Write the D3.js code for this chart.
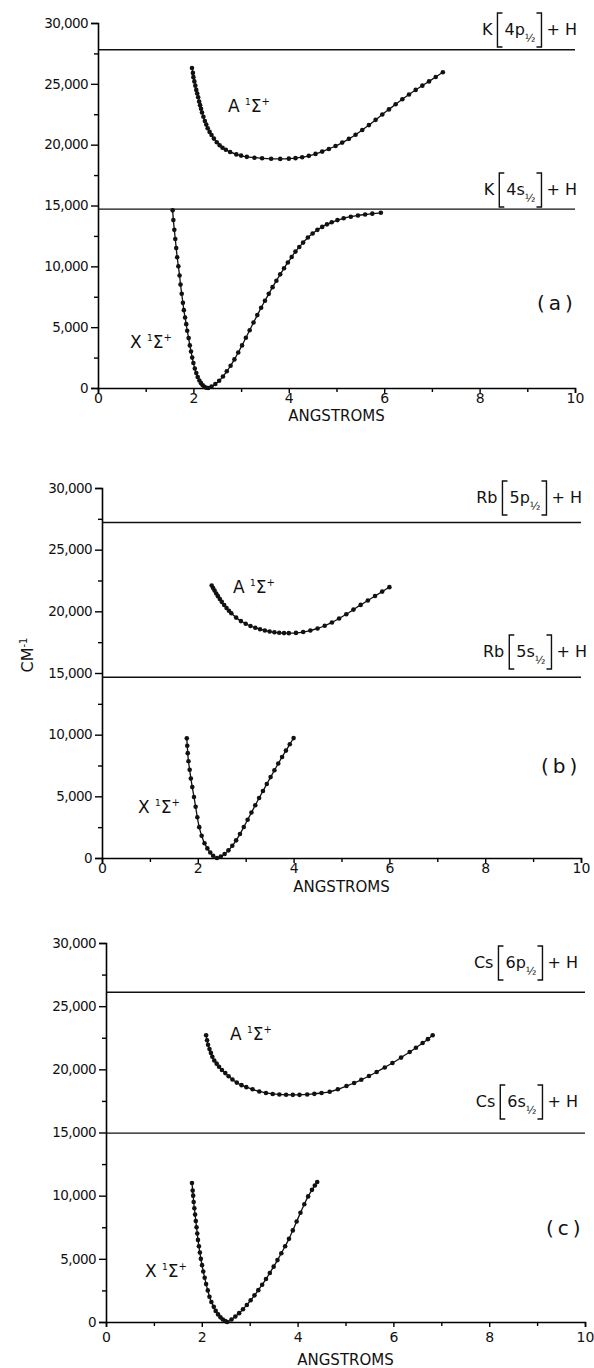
<!DOCTYPE html>
<html>
<head>
<meta charset="utf-8">
<script src="https://cdn.jsdelivr.net/npm/d3@7/dist/d3.min.js"></script>
<style>
  body { margin: 0; background: #fff; }
  svg { display: block; }
  text { font-family: "DejaVu Sans", sans-serif; fill: #111; }
</style>
</head>
<body>
<svg width="594" height="1368"></svg>
<script>
// ---- data ----
const xTicks = [0, 2, 4, 6, 8, 10];
const xMinor = [1, 3, 5, 7, 9];
const yTicks = [0, 5000, 10000, 15000, 20000, 25000, 30000];
const yMinor = [2500, 7500, 12500, 17500, 22500, 27500];

const panelNames = ['(a)', '(b)', '(c)'];
const atoms = ['K', 'Rb', 'Cs'];
const pStates = ['4p', '5p', '6p'];
const sStates = ['4s', '5s', '6s'];
const pLevels = [27800, 27200, 26100];   // cm-1
const sLevels = [14700, 14650, 14950];

// [angstrom, cm-1]
const khX = [[1.565,14600],[1.58,13800],[1.60,13000],[1.62,12250],[1.64,11500],[1.66,10750],[1.685,10000],[1.71,9250],[1.73,8500],[1.755,7750],[1.78,7000],[1.80,6400],[1.825,5800],[1.85,5250],[1.87,4700],[1.90,4100],[1.925,3500],[1.95,3000],[1.975,2500],[2.00,2050],[2.03,1600],[2.06,1230],[2.09,900],[2.125,620],[2.16,400],[2.195,220],[2.23,100],[2.27,25],[2.31,0],[2.38,110],[2.46,330],[2.54,600],[2.62,940],[2.70,1380],[2.78,1830],[2.86,2350],[2.94,2920],[3.02,3500],[3.10,4130],[3.18,4750],[3.26,5380],[3.34,5990],[3.42,6590],[3.50,7170],[3.58,7740],[3.66,8290],[3.74,8820],[3.82,9340],[3.90,9840],[3.98,10320],[4.06,10770],[4.14,11210],[4.22,11590],[4.30,11950],[4.40,12370],[4.50,12700],[4.60,13000],[4.70,13240],[4.80,13450],[4.90,13620],[5.02,13800],[5.15,13950],[5.30,14080],[5.45,14180],[5.60,14260],[5.75,14330],[5.93,14400]];
const khA = [[1.97,26300],[1.99,25900],[2.00,25550],[2.02,25200],[2.04,24850],[2.06,24500],[2.08,24200],[2.10,23900],[2.12,23550],[2.14,23250],[2.16,22950],[2.18,22650],[2.21,22300],[2.24,21950],[2.27,21650],[2.30,21350],[2.34,21050],[2.38,20800],[2.43,20500],[2.49,20200],[2.55,19950],[2.61,19750],[2.68,19580],[2.77,19400],[2.90,19200],[3.00,19100],[3.12,19000],[3.28,18930],[3.44,18880],[3.63,18840],[3.82,18830],[4.00,18850],[4.14,18890],[4.28,18970],[4.42,19080],[4.56,19240],[4.70,19430],[4.84,19650],[4.98,19890],[5.12,20170],[5.26,20480],[5.40,20820],[5.54,21200],[5.68,21610],[5.82,22040],[5.96,22480],[6.10,22900],[6.24,23320],[6.38,23730],[6.52,24120],[6.66,24500],[6.80,24850],[6.94,25200],[7.08,25560],[7.23,25950]];

const rbhX = [[1.77,9700],[1.78,9100],[1.79,8500],[1.805,7850],[1.83,7150],[1.855,6450],[1.885,5750],[1.92,4950],[1.955,4150],[1.99,3300],[2.03,2500],[2.08,1800],[2.14,1200],[2.20,780],[2.26,440],[2.32,180],[2.40,0],[2.48,120],[2.56,330],[2.64,620],[2.72,990],[2.80,1430],[2.88,1940],[2.96,2510],[3.04,3100],[3.12,3690],[3.20,4280],[3.28,4860],[3.36,5430],[3.44,6000],[3.52,6560],[3.60,7110],[3.68,7660],[3.76,8190],[3.84,8710],[3.92,9220],[4.00,9720]];
const rbhA = [[2.29,22100],[2.32,21890],[2.35,21680],[2.385,21450],[2.42,21230],[2.46,21000],[2.50,20770],[2.55,20510],[2.60,20270],[2.65,20050],[2.70,19840],[2.80,19490],[2.90,19210],[3.00,18990],[3.10,18810],[3.20,18670],[3.30,18550],[3.40,18450],[3.50,18360],[3.60,18300],[3.70,18260],[3.80,18235],[3.90,18230],[4.05,18250],[4.20,18320],[4.35,18440],[4.50,18610],[4.65,18830],[4.80,19100],[4.95,19420],[5.10,19760],[5.25,20140],[5.40,20520],[5.55,20880],[5.70,21240],[5.85,21600],[6.00,21960]];

const cshX = [[1.795,11000],[1.81,10400],[1.82,10000],[1.83,9500],[1.845,9000],[1.86,8500],[1.875,8000],[1.89,7500],[1.905,7000],[1.92,6500],[1.94,6000],[1.96,5500],[1.98,5000],[2.005,4500],[2.03,4000],[2.06,3500],[2.09,3000],[2.125,2500],[2.16,2000],[2.20,1580],[2.25,1200],[2.29,880],[2.34,600],[2.39,370],[2.44,200],[2.49,70],[2.53,0],[2.62,200],[2.70,430],[2.78,700],[2.86,1010],[2.94,1350],[3.02,1720],[3.10,2110],[3.18,2520],[3.26,2950],[3.34,3400],[3.42,3880],[3.50,4380],[3.58,4900],[3.66,5440],[3.74,6000],[3.82,6580],[3.90,7250],[3.98,7950],[4.06,8650],[4.14,9320],[4.22,9940],[4.30,10460],[4.36,10800],[4.41,11080]];
const cshA = [[2.09,22700],[2.11,22300],[2.13,21950],[2.16,21600],[2.19,21300],[2.22,21000],[2.26,20700],[2.31,20450],[2.36,20200],[2.42,19950],[2.49,19700],[2.56,19450],[2.64,19200],[2.73,18950],[2.83,18750],[2.93,18590],[3.06,18420],[3.20,18250],[3.34,18130],[3.48,18050],[3.62,18010],[3.76,17990],[3.90,17980],[4.04,17980],[4.20,18010],[4.35,18060],[4.50,18130],[4.67,18220],[4.84,18420],[5.02,18680],[5.18,18920],[5.33,19170],[5.49,19470],[5.65,19790],[5.82,20150],[5.98,20500],[6.16,20930],[6.34,21370],[6.47,21710],[6.61,22080],[6.72,22390],[6.82,22700]];

const xCurves = [khX, rbhX, cshX];
const aCurves = [khA, rbhA, cshA];

// ---- layout ----
const frames = [
  { x0: 98,  x1: 575, yTop: 23,  yBot: 388,  pLab: [577, 35],  sLab: [577, 195],  aLab: [228, 112],  xLab: [130, 348],  pan: [537, 310],  tickY: 5,  axLab: 33 },
  { x0: 102, x1: 581, yTop: 488, yBot: 858,  pLab: [582, 503], sLab: [587, 657],  aLab: [233, 593],  xLab: [138, 813],  pan: [541, 773],  tickY: 5,  axLab: 34 },
  { x0: 106, x1: 585, yTop: 943, yBot: 1322, pLab: [578, 968], sLab: [578, 1107], aLab: [230, 1040], xLab: [145, 1277], pan: [546, 1235], tickY: 10, axLab: 43 }
];

const svg = d3.select('svg');

function stateLabel(g, xRight, yBase, atom, state) {
  const lab = g.append('g');
  let cx = 0;
  const put = (str, size, dy) => {
    const t = lab.append('text').attr('x', cx).attr('y', dy || 0)
      .style('font-size', size + 'px').text(str);
    cx += t.node().getComputedTextLength();
    return t;
  };
  const bracket = (open) => {
    const w = 5, top = -22, bot = 12;
    const bx = open ? cx + 2 : cx + 1;
    const p = open
      ? `M${bx + w},${top}H${bx}V${bot}H${bx + w}`
      : `M${bx},${top}H${bx + w}V${bot}H${bx}`;
    lab.append('path').attr('d', p).attr('fill', 'none')
      .attr('stroke', '#111').attr('stroke-width', 1.4);
    cx += w + 4;
  };
  put(atom, 16);
  cx += 3;
  bracket(true);
  put(state, 16);
  put('\u00bd', 11, 7);
  bracket(false);
  cx += 2;
  put('+ H', 16);
  lab.attr('transform', `translate(${xRight - cx},${yBase})`);
}

function termLabel(g, x, yBase, letter) {
  const t = g.append('text').attr('x', x).attr('y', yBase).style('font-size', '17px');
  t.append('tspan').text(letter + ' ');
  t.append('tspan').attr('dy', -7).style('font-size', '9px').text('1');
  t.append('tspan').attr('dy', 7).text('\u03a3');
  t.append('tspan').attr('dy', -7).style('font-size', '10px').text('+');
}

frames.forEach((f, i) => {
  const x = d3.scaleLinear().domain([0, 10]).range([f.x0, f.x1]);
  const y = d3.scaleLinear().domain([0, 30000]).range([f.yBot, f.yTop]);
  const g = svg.append('g');

  // y axis
  const yAx = g.append('g').attr('transform', `translate(${f.x0},0)`)
    .call(d3.axisLeft(y).tickValues(yTicks).tickSize(7).tickPadding(3).tickFormat(d3.format(',')));
  g.append('g').attr('transform', `translate(${f.x0},0)`)
    .call(d3.axisLeft(y).tickValues(yMinor).tickSize(4).tickFormat(''))
    .select('.domain').remove();
  yAx.selectAll('text').style('font-size', '13.5px').style('letter-spacing', '-0.6px')
    .style('font-family', '"DejaVu Sans", sans-serif');

  // x axis
  const xAx = g.append('g').attr('transform', `translate(0,${f.yBot})`)
    .call(d3.axisBottom(x).tickValues(xTicks).tickSize(5).tickFormat(d3.format('d')));
  g.append('g').attr('transform', `translate(0,${f.yBot})`)
    .call(d3.axisBottom(x).tickValues(xMinor).tickSize(4).tickFormat(''))
    .select('.domain').remove();
  xAx.selectAll('text').attr('y', f.tickY)
    .style('font-size', '14px').style('font-family', '"DejaVu Sans", sans-serif');

  g.selectAll('.domain').attr('stroke-width', 1.6);
  g.selectAll('.tick line').attr('stroke-width', 1.4);

  // asymptote lines
  [pLevels[i], sLevels[i]].forEach(v => {
    g.append('line')
      .attr('x1', x(0)).attr('x2', x(10))
      .attr('y1', y(v)).attr('y2', y(v))
      .attr('stroke', '#111').attr('stroke-width', 1.4);
  });

  // potential curves
  const line = d3.line().x(d => x(d[0])).y(d => y(d[1])).curve(d3.curveCatmullRom);
  [xCurves[i], aCurves[i]].forEach(data => {
    g.append('path').datum(data).attr('d', line)
      .attr('fill', 'none').attr('stroke', '#111').attr('stroke-width', 1.3);
    g.selectAll(null).data(data).enter().append('circle')
      .attr('cx', d => x(d[0])).attr('cy', d => y(d[1])).attr('r', 2.3)
      .attr('fill', '#111');
  });

  // labels
  stateLabel(g, f.pLab[0], f.pLab[1], atoms[i], pStates[i]);
  stateLabel(g, f.sLab[0], f.sLab[1], atoms[i], sStates[i]);
  termLabel(g, f.aLab[0], f.aLab[1], 'A');
  termLabel(g, f.xLab[0], f.xLab[1], 'X');

  g.append('text').attr('x', f.pan[0]).attr('y', f.pan[1])
    .style('font-size', '20px').style('letter-spacing', '4px').text(panelNames[i]);

  g.append('text').attr('x', (f.x0 + f.x1) / 2).attr('y', f.yBot + f.axLab)
    .attr('text-anchor', 'middle').style('font-size', '15px').text('ANGSTROMS');
});

// shared y label
svg.append('text')
  .attr('transform', 'translate(33,655) rotate(-90)')
  .attr('text-anchor', 'middle').style('font-size', '16px')
  .text('CM')
  .append('tspan').attr('dy', -6).style('font-size', '10px').text('-1');
</script>
</body>
</html>
